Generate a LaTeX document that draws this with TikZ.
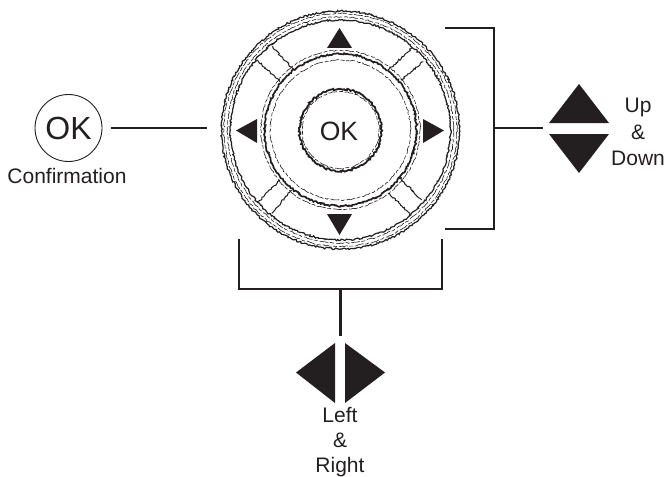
\documentclass[tikz,border=0pt]{standalone}
\usepackage{fontspec}
\setmainfont{Liberation Sans}
\usetikzlibrary{decorations.pathmorphing}
\definecolor{ink}{HTML}{231F20}
\tikzset{
  x=1pt,y=-1pt,
  lead/.style={draw=ink,line width=2.4pt},
  tri/.style={fill=ink,draw=none},
  rough/.style={draw=ink,line width=1.2pt,decorate,decoration={random steps,segment length=1.5pt,amplitude=0.9pt}},
  roughthin/.style={draw=ink,line width=0.6pt,dash pattern=on 9pt off 1.5pt on 4pt off 2pt,decorate,decoration={random steps,segment length=2pt,amplitude=0.6pt}},
  label/.style={anchor=base,inner sep=0pt,font=\fontsize{21pt}{25pt}\selectfont,text=ink},
  okbig/.style={anchor=center,inner sep=0pt,font=\fontsize{32pt}{33pt}\selectfont,text=ink},
  okdial/.style={anchor=center,inner sep=0pt,font=\fontsize{26.5pt}{27pt}\selectfont,text=ink},
}
\begin{document}
\begin{tikzpicture}
\pgfmathsetseed{7}
\useasboundingbox (0,0) rectangle (668,476);
\coordinate (c) at (340.5,130);
% dial rings
\draw[rough] (c) circle[radius=119pt];
\draw[roughthin] (c) circle[radius=116.5pt];
\draw[rough] (c) circle[radius=110pt];
\draw[roughthin] (c) circle[radius=113pt];
\draw[rough,line width=1.7pt] (c) circle[radius=76pt];
\draw[roughthin] (c) circle[radius=79.5pt];
\draw[roughthin] (c) circle[radius=70pt];
\draw[rough,line width=1.8pt] (c) circle[radius=41pt];
\draw[roughthin] (c) circle[radius=38.5pt];
% separators
\foreach \a/\b/\cc/\d in {
 272/46.7/293.7/70, 256.7/60/280/81.7,
 411.7/48.3/388.3/70, 423.3/61.7/400.7/80,
 258.3/201.7/280/180, 271.7/213.3/291.7/190,
 421.7/200/398.3/176.7, 410/213.3/388.3/193.3}{
  \draw[rough,line width=1pt] (\a,\b) -- (\cc,\d);
}
% dial arrows
\fill[tri] (339.5,28) -- (352,48) -- (327,48) -- cycle;
\fill[tri] (339.5,235) -- (352,214) -- (327,214) -- cycle;
\fill[tri] (236,130.5) -- (257,119) -- (257,143) -- cycle;
\fill[tri] (444,130.5) -- (423,119) -- (423,143) -- cycle;
\node[okdial] (dialok) at (339,131) {OK};
% left confirmation
\node[circle,draw=ink,line width=0.9pt,minimum size=67pt,inner sep=0pt] (okc) at (68.5,128) {};
\node[okbig] (oktext) at (68.5,128.5) {OK};
\node[label] (conf) at (67,183.5) {Confirmation};
\coordinate (leftend) at (207,128);
\draw[lead] (111,128) -- (leftend);
% right bracket
\coordinate (rt) at (445,28);
\coordinate (rc) at (494,28);
\coordinate (rd) at (494,229);
\coordinate (rb) at (445,229);
\coordinate (rm) at (494,128);
\coordinate (rs) at (543,128);
\draw[lead] (rt) -- (rc) -- (rd) -- (rb);
\draw[lead] (rm) -- (rs);
% bottom bracket
\coordinate (bl) at (239,239);
\coordinate (bc) at (239,289);
\coordinate (bd) at (442,289);
\coordinate (br) at (442,239);
\coordinate (bm) at (340.5,289);
\coordinate (bs) at (340.5,336);
\draw[lead] (bl) -- (bc) -- (bd) -- (br);
\draw[lead] (bm) -- (bs);
% up / down
\fill[tri] (579,84) -- (609,123) -- (549,123) -- cycle;
\fill[tri] (579,173) -- (609,134) -- (549,134) -- cycle;
\node[label] (up) at (638,112) {Up};
\node[label] (amp1) at (638,139) {\&};
\node[label] (down) at (638,165) {Down};
% left / right
\fill[tri] (296,372.5) -- (335,343) -- (335,403) -- cycle;
\fill[tri] (385,372.5) -- (345,343) -- (345,403) -- cycle;
\node[label] (left) at (340,422) {Left};
\node[label] (amp2) at (340,447) {\&};
\node[label] (right) at (340,472) {Right};
\end{tikzpicture}
\end{document}
